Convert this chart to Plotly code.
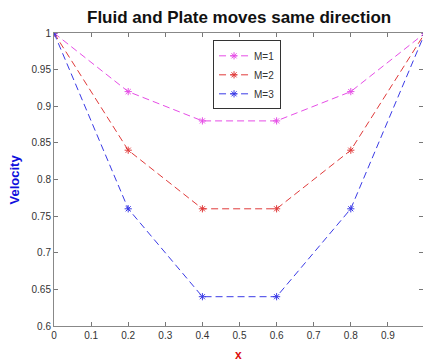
import plotly.graph_objects as go

x_vals = [0, 0.2, 0.4, 0.6, 0.8, 1.0]
m1 = [1.0, 0.92, 0.88, 0.88, 0.92, 1.0]
m2 = [1.0, 0.84, 0.76, 0.76, 0.84, 1.0]
m3 = [1.0, 0.76, 0.64, 0.64, 0.76, 1.0]
names = ["M=1", "M=2", "M=3"]
colors = ["#e64de6", "#e03a3a", "#3a3ae6"]
x_ticks = [0, 0.1, 0.2, 0.3, 0.4, 0.5, 0.6, 0.7, 0.8, 0.9]
x_tick_text = ["0", "0.1", "0.2", "0.3", "0.4", "0.5", "0.6", "0.7", "0.8", "0.9"]
y_ticks = [0.6, 0.65, 0.7, 0.75, 0.8, 0.85, 0.9, 0.95, 1.0]
y_tick_text = ["0.6", "0.65", "0.7", "0.75", "0.8", "0.85", "0.9", "0.95", "1"]

fig = go.Figure()
for name, ys, c in zip(names, [m1, m2, m3], colors):
    fig.add_trace(go.Scatter(
        x=x_vals, y=ys, name=name, mode="lines+markers",
        line=dict(color=c, width=1, dash="7px,4px"),
        marker=dict(symbol="asterisk-open", size=6, color=c, line=dict(color=c, width=1)),
    ))

PLOT_H = 293.0
fig.update_layout(
    width=423, height=362,
    margin=dict(l=54, r=0, t=33, b=36),
    plot_bgcolor="white", paper_bgcolor="white",
    font=dict(family="Liberation Sans, Arial, sans-serif", size=10, color="#333333"),
    showlegend=True,
    legend=dict(x=0.431, y=0.975, xanchor="left", yanchor="top",
                bordercolor="#333333", borderwidth=1, bgcolor="white",
                font=dict(size=10, color="#333333"), itemwidth=30,
                tracegroupgap=0),
    annotations=[
        dict(text="<b>Fluid and Plate moves same direction</b>", x=0.5,
             y=1 + (33 - 18) / PLOT_H, yanchor="middle",
             xref="paper", yref="paper", showarrow=False,
             font=dict(size=17, color="#111111")),
        dict(text="<b>Velocity</b>", xref="paper", yref="paper", x=-40 / 369.0, y=0.5,
             xanchor="center", yanchor="middle", textangle=-90, showarrow=False,
             font=dict(size=13, color="#1010dd")),
        dict(text="<b>x</b>", xref="paper", yref="paper", x=0.5, y=-(355 - 326) / PLOT_H,
             xanchor="center", yanchor="middle", showarrow=False,
             font=dict(size=12, color="#dd1010")),
    ],
)

fig.update_xaxes(range=[0, 369 / 371.0], tickvals=x_ticks, ticktext=x_tick_text,
                 ticks="inside", ticklen=4, tickcolor="#777777",
                 showline=True, linecolor="#888888", linewidth=1, mirror="ticks",
                 showgrid=False, zeroline=False, tickfont=dict(size=10, color="#333333"))
fig.update_yaxes(range=[0.6, 1.0], tickvals=y_ticks, ticktext=y_tick_text,
                 ticks="inside", ticklen=4, tickcolor="#777777",
                 showline=True, linecolor="#888888", linewidth=1, mirror="ticks",
                 showgrid=False, zeroline=False, tickfont=dict(size=10, color="#333333"))

fig.write_html("out.html", config={"displayModeBar": False},
               post_script="document.body.style.margin='0';")
